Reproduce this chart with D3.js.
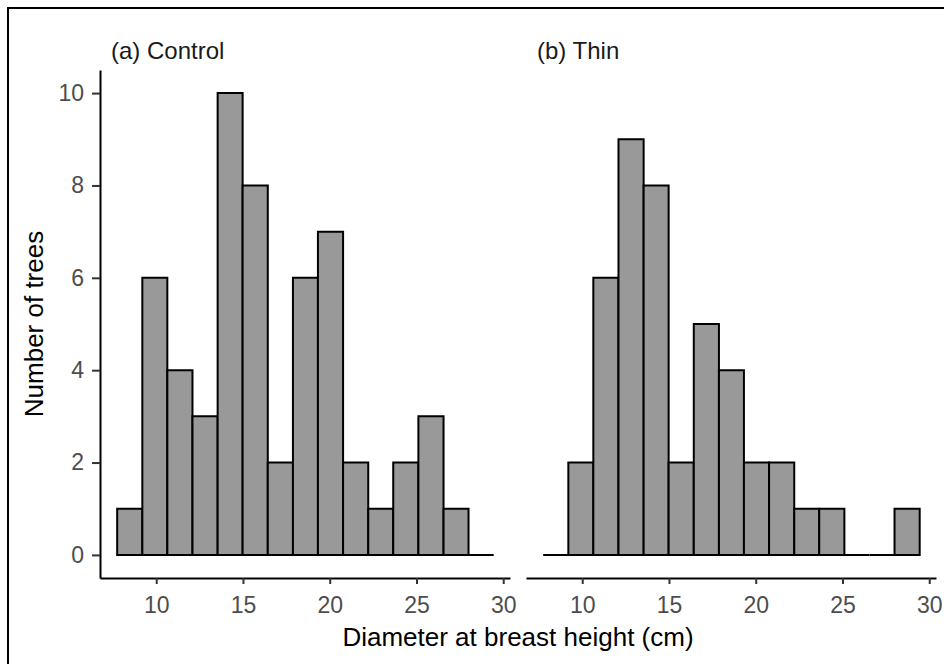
<!DOCTYPE html>
<html lang="en">
<head>
    <meta charset="UTF-8">
    <title>DBH histograms</title>
    <script src="https://d3js.org/d3.v7.min.js"></script>
    <style>
        body { margin: 0; background: #fff; }
        svg { display: block; font-family: "Liberation Sans", Arial, sans-serif; }
        .axis text { fill: #4d4d4d; font-size: 23px; font-family: "Liberation Sans", Arial, sans-serif; }
        .axis line { stroke: #333; stroke-width: 2px; }
        .axis path { stroke: #000; stroke-width: 2px; }
    </style>
</head>
<body>
    <div id="chart"></div>
    <script>
        // histogram bin edges (cm), shared by both panels
        const binEdges = [7.75, 9.2, 10.64, 12.09, 13.54, 14.98, 16.43, 17.88, 19.32, 20.77, 22.22, 23.66, 25.11, 26.56, 28.0, 29.45]

        // counts per bin
        const controlCounts = [1, 6, 4, 3, 10, 8, 2, 6, 7, 2, 1, 2, 3, 1, 0]
        const thinCounts = [0, 2, 6, 9, 8, 2, 5, 4, 2, 2, 1, 1, 0, 0, 1]

        const panelTitles = ["(a) Control", "(b) Thin"]
        const xTicks = [10, 15, 20, 25, 30]
        const yTicks = [0, 2, 4, 6, 8, 10]

        const width = 944, height = 664
        const panelW = 410, panelGap = 16
        const plotTop = 70, plotBottom = 578, plotLeft = 100

        const svg = d3.select("#chart").append("svg")
            .attr("width", width)
            .attr("height", height)

        // outer frame (right and bottom edges fall outside the picture)
        svg.append("rect")
            .attr("x", 8).attr("y", 8)
            .attr("width", 1000).attr("height", 1000)
            .attr("fill", "none")
            .attr("stroke", "#000")
            .attr("stroke-width", 2)

        var x = d3.scaleLinear()
            .domain([6.76, 30.39])
            .range([0, panelW])

        var y = d3.scaleLinear()
            .domain([-0.5, 10.5])
            .range([plotBottom, plotTop])

        function bins(counts) {
            return counts.map((c, i) => ({x0: binEdges[i], x1: binEdges[i + 1], n: c}))
        }

        const panels = [controlCounts, thinCounts]

        panels.forEach(function (counts, p) {
            var g = svg.append("g")
                .attr("transform", "translate(" + (plotLeft + p * (panelW + panelGap)) + ",0)")

            // bars (paths so that empty bins still show a baseline)
            g.append("g")
                .selectAll("path")
                .data(bins(counts))
                .enter()
                .append("path")
                .attr("d", d => "M" + x(d.x0) + "," + y(0) + "H" + x(d.x1) + "V" + y(d.n) + "H" + x(d.x0) + "Z")
                .attr("fill", "#999999")
                .attr("stroke", "#000")
                .attr("stroke-width", 2)

            // x axis
            g.append("g")
                .attr("class", "axis")
                .attr("transform", "translate(0," + plotBottom + ")")
                .call(d3.axisBottom(x).tickValues(xTicks).tickSize(6).tickSizeOuter(0).tickPadding(13))

            // y axis only on the first panel
            if (p === 0) {
                g.append("g")
                    .attr("class", "axis")
                    .call(d3.axisLeft(y).tickValues(yTicks).tickSize(8).tickSizeOuter(0).tickPadding(8))
            }

            // strip label
            g.append("text")
                .attr("x", 11)
                .attr("y", 59)
                .attr("fill", "#1a1a1a")
                .style("font-size", "24px")
                .text(panelTitles[p])
        })

        // axis titles
        svg.append("text")
            .attr("x", (plotLeft + plotLeft + 2 * panelW + panelGap) / 2)
            .attr("y", 646)
            .attr("text-anchor", "middle")
            .style("font-size", "26px")
            .text("Diameter at breast height (cm)")

        svg.append("text")
            .attr("transform", "translate(43," + (plotTop + plotBottom) / 2 + ") rotate(-90)")
            .attr("text-anchor", "middle")
            .style("font-size", "26px")
            .text("Number of trees")
    </script>
</body>
</html>
